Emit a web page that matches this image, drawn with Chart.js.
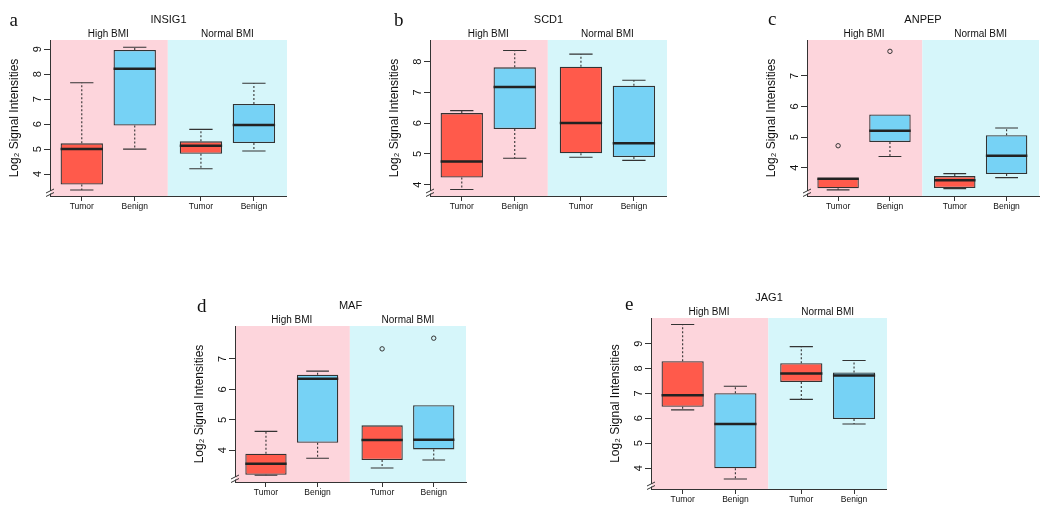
<!DOCTYPE html>
<html><head><meta charset="utf-8">
<script src="https://cdn.jsdelivr.net/npm/chart.js@4"></script>
<style>
html,body{margin:0;padding:0;background:#fff;overflow:hidden}
#wrap{position:relative;width:1050px;height:509px}
canvas{position:absolute}
.lt{position:absolute;font-family:'Liberation Serif','Times New Roman',serif;font-size:19px;line-height:19px;color:#111}
</style></head><body><div id="wrap"></div>
<script>
// ---------- data ----------
const categories = ['Tumor', 'Benign', 'Tumor', 'Benign'];
const groups = ['High BMI', 'Normal BMI'];
const genes = ['INSIG1', 'SCD1', 'ANPEP', 'MAF', 'JAG1'];
const letters = ['a', 'b', 'c', 'd', 'e'];
// five-number summaries per box: [min, q1, median, q3, max]
const INSIG1 = [[3.36,3.58,5.00,5.23,7.66],[5.00,5.94,8.22,8.97,9.08],[4.21,4.81,5.13,5.31,5.79],[4.92,5.24,5.96,6.81,7.64]];
const SCD1   = [[3.84,4.23,4.75,6.33,6.41],[4.86,5.81,7.18,7.82,8.37],[4.89,5.02,6.01,7.84,8.25],[4.79,4.90,5.35,7.22,7.40]];
const ANPEP  = [[3.28,3.33,3.64,3.66,3.66],[4.37,4.84,5.21,5.74,5.74],[3.32,3.34,3.59,3.73,3.81],[3.68,3.80,4.39,5.06,5.30]];
const MAF    = [[3.18,3.20,3.56,3.89,4.62],[3.74,4.25,6.35,6.48,6.60],[3.42,3.68,4.34,4.82,4.82],[3.68,4.03,4.35,5.48,5.48]];
const JAG1   = [[6.34,6.46,6.93,8.29,9.77],[3.56,3.99,5.77,7.01,7.29],[6.76,7.46,7.80,8.21,8.88],[5.77,5.97,7.72,7.84,8.32]];
// outliers per box
const INSIG1_out = [[],[],[],[]];
const SCD1_out   = [[],[],[],[]];
const ANPEP_out  = [[4.72],[7.80],[],[]];
const MAF_out    = [[],[],[7.33],[7.68]];
const JAG1_out   = [[],[],[],[]];
// y tick labels
const INSIG1_ticks = [4,5,6,7,8,9];
const SCD1_ticks   = [4,5,6,7,8];
const ANPEP_ticks  = [4,5,6,7];
const MAF_ticks    = [4,5,6,7];
const JAG1_ticks   = [4,5,6,7,8,9];

const stats = [INSIG1, SCD1, ANPEP, MAF, JAG1];
const outs = [INSIG1_out, SCD1_out, ANPEP_out, MAF_out, JAG1_out];
const ticksY = [INSIG1_ticks, SCD1_ticks, ANPEP_ticks, MAF_ticks, JAG1_ticks];

// ---------- layout ----------
const POS = [1, 2, 3.25, 4.25];
const XMIN = 0.4, XMAX = 4.875;
const BOXW = 0.8, CAPH = 0.22, MEDH = 0.4;
const YW = 43, TH = 27, BH = 20;
const panels = [
  {left:7,   top:13,  w:280, h:203, ymin:3.12, ymax:9.37, lx:9.5, ly:10},
  {left:387, top:13,  w:280, h:203, ymin:3.63, ymax:8.71, lx:394, ly:10},
  {left:764, top:13,  w:280, h:203, ymin:3.08, ymax:8.17, lx:768, ly:9},
  {left:192, top:299, w:279, h:203, ymin:2.96, ymax:8.08, lx:197, ly:296},
  {left:608, top:291, w:279, h:218, ymin:3.16, ymax:10.03, lx:625, ly:293.5}
];
const RED = '#FF5A4B', BLUE = '#76D2F5', PINK = '#FDD5DC', CYAN = '#D6F6FA';
const INK = '#222', LINE = '#333';
const FONT = "'Liberation Sans', Arial, Helvetica, sans-serif";
Chart.defaults.font.family = FONT;
Chart.defaults.color = '#111';

const bgPlugin = {
  id: 'bg',
  beforeDraw(chart) {
    const {ctx, chartArea: a, scales: {x}} = chart;
    const split = x.getPixelForValue((POS[1] + POS[2]) / 2);
    ctx.save();
    ctx.fillStyle = PINK; ctx.fillRect(a.left, a.top, split - a.left, a.bottom - a.top);
    ctx.fillStyle = CYAN; ctx.fillRect(split, a.top, a.right - split, a.bottom - a.top);
    ctx.restore();
  },
  afterDraw(chart) {
    const {ctx, chartArea: a} = chart;
    const L = a.left, B = a.bottom;
    ctx.save();
    ctx.strokeStyle = '#fff'; ctx.lineWidth = 2;
    ctx.beginPath(); ctx.moveTo(L, B - 2.5); ctx.lineTo(L, B - 5); ctx.stroke();
    ctx.strokeStyle = LINE; ctx.lineWidth = 1;
    ctx.beginPath();
    ctx.moveTo(L - 4, B - 3); ctx.lineTo(L + 4, B - 7);
    ctx.moveTo(L - 4, B + 0.5); ctx.lineTo(L + 4, B - 3.5);
    ctx.stroke();
    ctx.restore();
  }
};

const wrap = document.getElementById('wrap');
panels.forEach((p, k) => {
  const cv = document.createElement('canvas');
  cv.width = p.w; cv.height = p.h;
  cv.style.left = p.left + 'px'; cv.style.top = p.top + 'px';
  cv.style.width = p.w + 'px'; cv.style.height = p.h + 'px';
  wrap.appendChild(cv);
  const lt = document.createElement('div');
  lt.className = 'lt'; lt.textContent = letters[k];
  lt.style.left = p.lx + 'px'; lt.style.top = p.ly + 'px';
  wrap.appendChild(lt);

  const S = stats[k];
  const boxes = S.map((s, i) => ({x: POS[i], y: [s[1], s[3]]}));
  const whisk = [], caps = [], meds = [], outl = [];
  S.forEach((s, i) => {
    const c = POS[i];
    whisk.push({x:c, y:s[3]}, {x:c, y:s[4]}, {x:c, y:null}, {x:c, y:s[1]}, {x:c, y:s[0]}, {x:c, y:null});
    if (s[4] > s[3]) caps.push({x:c-CAPH, y:s[4]}, {x:c+CAPH, y:s[4]}, {x:c, y:null});
    if (s[0] < s[1]) caps.push({x:c-CAPH, y:s[0]}, {x:c+CAPH, y:s[0]}, {x:c, y:null});
    meds.push({x:c-MEDH, y:s[2]}, {x:c+MEDH, y:s[2]}, {x:c, y:null});
    outs[k][i].forEach(v => outl.push({x:c, y:v}));
  });

  new Chart(cv, {
    type: 'bar',
    data: {
      datasets: [
        {type:'scatter', data: outl, xAxisID:'x', yAxisID:'y', order:0,
         pointStyle:'circle', pointRadius:2.2, pointBorderWidth:1, pointBorderColor:LINE, pointBackgroundColor:'rgba(0,0,0,0)'},
        {type:'line', data: meds, xAxisID:'x', yAxisID:'y', order:1, borderColor:INK, borderWidth:2.5,
         pointRadius:0, spanGaps:false, fill:false, borderCapStyle:'butt'},
        {type:'line', data: caps, xAxisID:'x', yAxisID:'y', order:2, borderColor:LINE, borderWidth:1.1,
         pointRadius:0, spanGaps:false, fill:false},
        {type:'line', data: whisk, xAxisID:'x', yAxisID:'y', order:3, borderColor:LINE, borderWidth:1.1,
         borderDash:[2,2], pointRadius:0, spanGaps:false, fill:false},
        {type:'bar', data: boxes, xAxisID:'x', yAxisID:'y', order:4,
         backgroundColor:[RED, BLUE, RED, BLUE], borderColor:LINE, borderWidth:1.3, borderSkipped:false,
         barPercentage:BOXW, categoryPercentage:1}
      ]
    },
    options: {
      responsive:false, animation:false, devicePixelRatio:1,
      layout:{padding:0},
      plugins:{legend:{display:false}, tooltip:{enabled:false}},
      scales: {
        x: {type:'linear', position:'bottom', min:XMIN, max:XMAX, offset:false,
            afterBuildTicks: s => { s.ticks = POS.map(v => ({value:v})); },
            afterFit: s => { s.height = BH; },
            ticks:{autoSkip:false, maxRotation:0, minRotation:0, padding:1,
                   font:{size:8.5}, color:'#111', callback:(v, i) => categories[i]},
            grid:{display:true, offset:false, drawOnChartArea:false, drawTicks:true, tickLength:5, color:LINE, lineWidth:1},
            border:{display:true, color:LINE, width:1}},
        x2: {type:'linear', position:'top', min:XMIN, max:XMAX, offset:false,
            afterBuildTicks: s => { s.ticks = [{value:(POS[0]+POS[1])/2}, {value:(POS[2]+POS[3])/2}]; },
            afterFit: s => { s.height = TH; },
            ticks:{autoSkip:false, maxRotation:0, minRotation:0, padding:0,
                   font:{size:10}, color:'#111', callback:(v, i) => groups[i]},
            grid:{display:false, offset:false, drawTicks:false},
            border:{display:false},
            title:{display:true, text:genes[k], padding:0, font:{size:11}, color:'#111'}},
        y: {type:'linear', position:'left', min:p.ymin, max:p.ymax,
            afterBuildTicks: s => { s.ticks = ticksY[k].map(v => ({value:v})); },
            afterFit: s => { s.width = YW; },
            ticks:{minRotation:90, maxRotation:90, crossAlign:'center', padding:3,
                   font:{size:11}, color:'#111'},
            grid:{display:true, drawOnChartArea:false, drawTicks:true, tickLength:6, color:LINE, lineWidth:1},
            border:{display:true, color:LINE, width:1},
            title:{display:true, text:'Log\u2082 Signal Intensities', padding:0, font:{size:12}, color:'#111'}}
      }
    },
    plugins:[bgPlugin]
  });
});
</script>
</body></html>
